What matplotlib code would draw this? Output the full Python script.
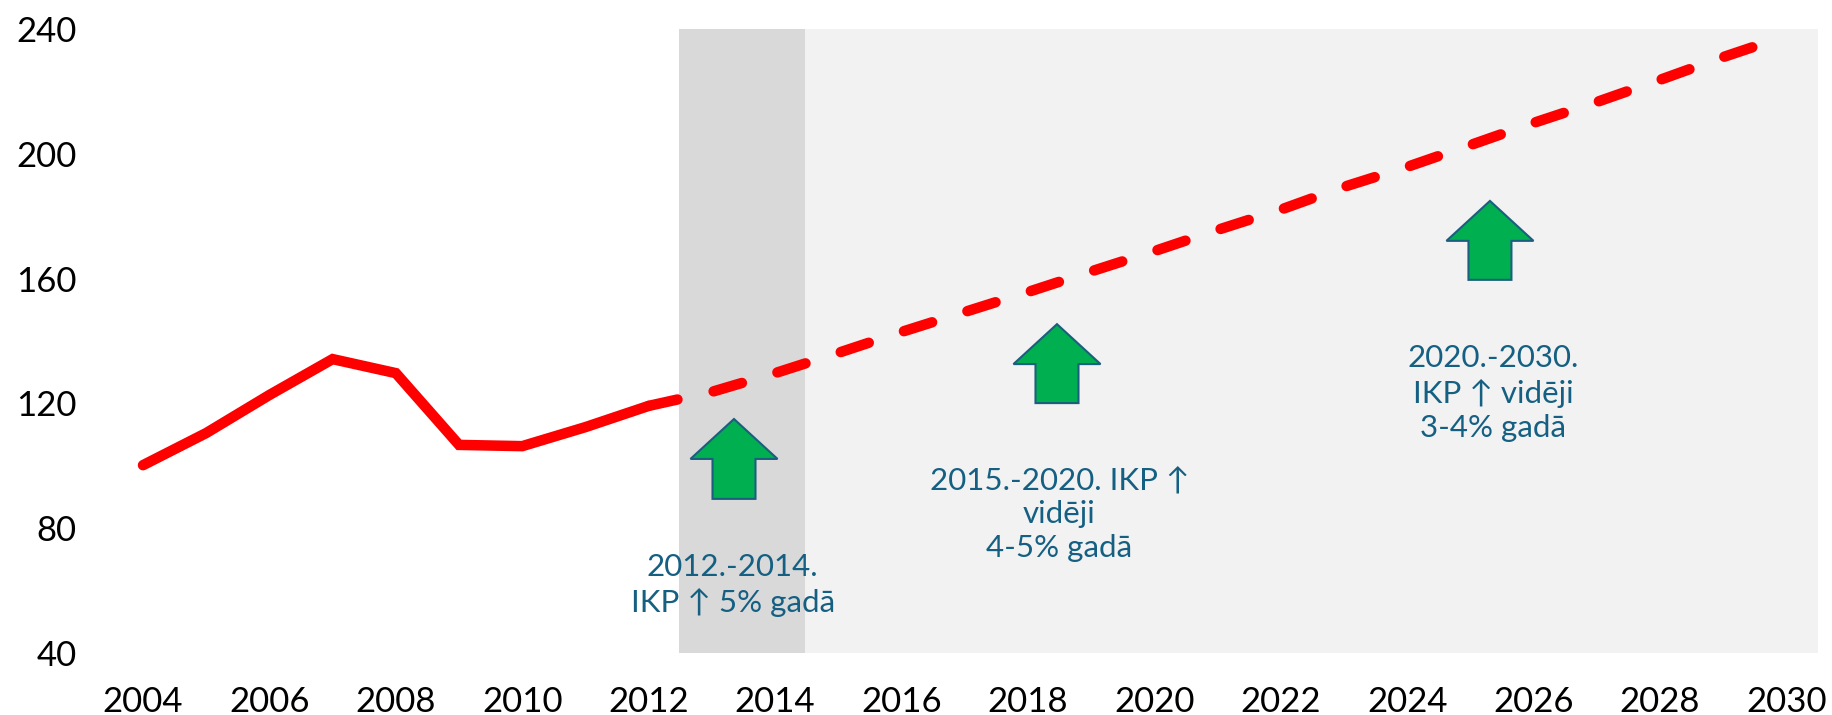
import matplotlib
matplotlib.use("Agg")
import matplotlib.pyplot as plt
from matplotlib.patches import FancyArrow

plt.rcParams['font.family'] = ['Lato', 'DejaVu Sans']
plt.rcParams['lines.scale_dashes'] = False

actual_years = list(range(2004, 2013))
actual_values = [100.2, 110.5, 122.7, 134.2, 129.7, 106.7, 106.3, 112.4, 119.2]
forecast_years = list(range(2012, 2031))
forecast_values = [119.2, 123.7, 129.7, 136.2, 142.9, 149.3, 155.7, 162.3, 168.8, 175.6,
                   182.1, 189.4, 195.8, 202.8, 209.9, 216.6, 223.7, 231.0, 237.8]
x_ticks = list(range(2004, 2031, 2))
y_ticks = [40, 80, 120, 160, 200, 240]

dark_band = (2012.48, 2014.48)
light_band = (2014.48, 2030.5)

arrow_years = [2013.35, 2018.46, 2025.31]
arrow_bottoms = [89.4, 120.1, 159.6]
arrow_tops = [115.0, 145.4, 184.9]

note_texts = ["2012.-2014.\nIKP ↑ 5% gadā",
              "2015.-2020. IKP ↑\nvidēji\n4-5% gadā",
              "2020.-2030.\nIKP ↑ vidēji\n3-4% gadā"]
note_years = [2013.33, 2018.5, 2025.36]
note_values = [61.8, 84.5, 123.3]

W, H = 1833, 715
fig = plt.figure(figsize=(W / 100, H / 100), dpi=100)
ax = fig.add_axes([111.4 / W, (H - 653) / H, 1706.6 / W, 624 / H])
ax.set_xlim(2003.5, 2030.5)
ax.set_ylim(40, 240)

ax.axvspan(*dark_band, color='#D9D9D9', lw=0, zorder=1)
ax.axvspan(*light_band, color='#F2F2F2', lw=0, zorder=1)

px = 0.72
ax.plot(actual_years, actual_values, color='#FF0000', lw=10.5 * px,
        solid_capstyle='round', solid_joinstyle='miter', zorder=3)
ax.plot(forecast_years, forecast_values, color='#FF0000', lw=10.5 * px,
        dashes=(29.5 * px, 37.05 * px), dash_capstyle='round', dash_joinstyle='round', zorder=3)

for year, bottom, top in zip(arrow_years, arrow_bottoms, arrow_tops):
    ax.add_patch(FancyArrow(year, bottom, 0, top - bottom, width=0.68, head_width=1.377,
                            head_length=12.8, length_includes_head=True,
                            facecolor='#00B050', edgecolor='#1B5E7D', lw=1.5, zorder=4))

for text, year, value in zip(note_texts, note_years, note_values):
    ax.text(year, value, text, ha='center', va='center', fontsize=22.5, color='#156082',
            fontweight='normal', linespacing=1.26, zorder=5)

for s in ax.spines.values():
    s.set_visible(False)
ax.set_xticks(x_ticks)
ax.set_yticks(y_ticks)
ax.tick_params(axis='both', length=0, labelsize=25, labelcolor='black')
ax.tick_params(axis='x', pad=24)
ax.tick_params(axis='y', pad=25)

fig.savefig('out.png', dpi=100)
